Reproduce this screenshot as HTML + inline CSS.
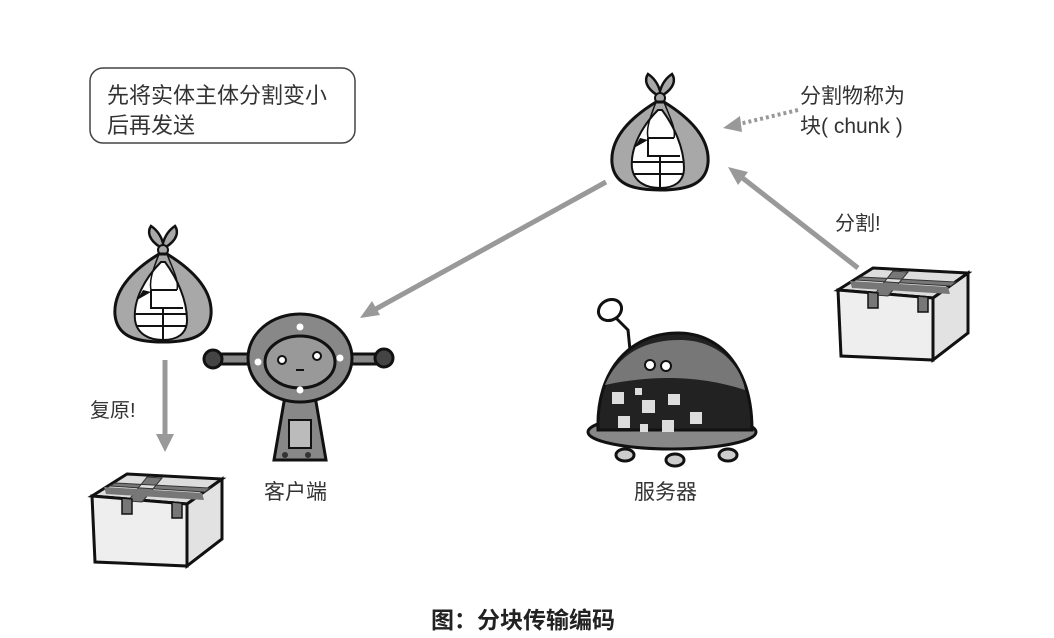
<!DOCTYPE html>
<html><head><meta charset="utf-8"><style>
html,body{margin:0;padding:0;background:#fff}
svg{display:block}
text{font-family:"Liberation Sans","Noto Sans CJK SC",sans-serif;fill:#333}
</style></head><body>
<svg width="1054" height="638" viewBox="0 0 1054 638" xmlns="http://www.w3.org/2000/svg">
<defs>
<g id="bag">
 <path d="M-3,-53 C-14,-60 -16,-68 -12,-74 C-6,-70 -2,-64 0,-57 C2,-64 6,-70 12,-74 C16,-68 14,-60 3,-53 Z" fill="#a8a8a8" stroke="#111" stroke-width="2.5"/>
 <circle cx="0" cy="-50" r="5" fill="#a8a8a8" stroke="#111" stroke-width="2"/>
 <path d="M-4,-46 C-30,-30 -50,-10 -48,15 C-46,35 -30,42 0,42 C30,42 46,35 48,15 C50,-10 30,-30 4,-46 Z" fill="#a8a8a8" stroke="#111" stroke-width="3"/>
 <path d="M-2,-38 C-18,-22 -30,0 -28,20 C-26,34 -14,40 0,40 C14,40 24,34 24,20 C24,0 14,-22 2,-38 Z" fill="#fff" stroke="#111" stroke-width="2"/>
 <path d="M-26,0 L-20,-10 L-12,-8 Z" fill="#111"/>
 <path d="M-12,-10 L-12,8 L20,8 M-28,14 L24,14 M-26,26 L24,26 M0,8 L0,40 M-12,-10 L14,-10" fill="none" stroke="#111" stroke-width="2"/>
 <path d="M-4,-46 C-10,-30 -14,-20 -12,-10 M4,-46 C10,-30 16,-20 14,-10" fill="none" stroke="#111" stroke-width="1.5"/>
</g>
<g id="box">
 <path d="M0,22 L35,0 L130,5 L95,30 Z" fill="#ddd" stroke="#111" stroke-width="3"/>
 <path d="M0,22 L95,30 L95,92 L3,88 Z" fill="#eee" stroke="#111" stroke-width="3"/>
 <path d="M95,30 L130,5 L130,65 L95,92 Z" fill="#e2e2e2" stroke="#111" stroke-width="3"/>
 <path d="M18,12 L113,18 L118,14 L23,9 Z M55,3 L70,4 L50,28 L36,27 Z" fill="#777" stroke="#333" stroke-width="1"/>
 <path d="M12,13 L110,19 L112,26 L14,20 Z" fill="#777"/>
 <path d="M30,24 L30,40 L40,40 L40,25 Z M80,28 L80,44 L90,44 L90,29 Z" fill="#777" stroke="#111" stroke-width="1.5"/>
</g>
</defs>

<rect x="90" y="68" width="265" height="75" rx="13" fill="#fff" stroke="#444" stroke-width="1.5"/>
<text x="107" y="103" font-size="22">先将实体主体分割变小</text>
<text x="107" y="133" font-size="22">后再发送</text>

<use href="#bag" x="660" y="148"/>
<use href="#bag" x="163" y="300"/>

<text x="800" y="103" font-size="21">分割物称为</text>
<text x="800" y="133" font-size="21">块( chunk )</text>
<line x1="798" y1="110" x2="735" y2="125" stroke="#999" stroke-width="4" stroke-dasharray="3,3"/>
<path d="M723,128 L740,116 L742,132 Z" fill="#999"/>

<line x1="606" y1="182" x2="374" y2="310" stroke="#999" stroke-width="5"/>
<path d="M360,318 L372,301 L380,315 Z" fill="#999"/>
<line x1="858" y1="268" x2="740" y2="176" stroke="#999" stroke-width="5"/>
<path d="M728,167 L748,172 L738,185 Z" fill="#999"/>
<text x="835" y="230" font-size="20">分割!</text>

<line x1="165" y1="360" x2="165" y2="436" stroke="#999" stroke-width="5"/>
<path d="M156,434 L174,434 L165,452 Z" fill="#999"/>
<text x="90" y="417" font-size="20">复原!</text>

<use href="#box" x="838" y="268"/>
<use href="#box" x="92" y="474"/>

<!-- client robot -->
<g stroke="#111" stroke-width="3">
 <rect x="215" y="354" width="40" height="10" fill="#888"/>
 <rect x="345" y="354" width="40" height="10" fill="#888"/>
 <circle cx="213" cy="359" r="9" fill="#444"/>
 <circle cx="384" cy="358" r="9" fill="#444"/>
 <path d="M285,396 L315,396 L326,460 L274,460 Z" fill="#888"/>
 <rect x="289" y="420" width="22" height="28" fill="#bbb" stroke-width="2"/>
 <ellipse cx="300" cy="358" rx="52" ry="44" fill="#888"/>
 <ellipse cx="300" cy="362" rx="35" ry="26" fill="#999"/>
</g>
<circle cx="300" cy="327" r="3.5" fill="#fff"/><circle cx="300" cy="390" r="3.5" fill="#fff"/>
<circle cx="258" cy="362" r="3.5" fill="#fff"/><circle cx="340" cy="358" r="3.5" fill="#fff"/>
<circle cx="282" cy="360" r="4" fill="#fff" stroke="#111" stroke-width="2"/>
<circle cx="317" cy="356" r="4" fill="#fff" stroke="#111" stroke-width="2"/>
<line x1="296" y1="370" x2="304" y2="370" stroke="#111" stroke-width="2"/>
<circle cx="285" cy="455" r="3" fill="#333"/><circle cx="308" cy="455" r="3" fill="#333"/>
<text x="264" y="499" font-size="21">客户端</text>

<!-- server -->
<g stroke="#111" stroke-width="3">
 <ellipse cx="625" cy="455" rx="9" ry="6" fill="#ccc"/>
 <ellipse cx="675" cy="460" rx="9" ry="6" fill="#ccc"/>
 <ellipse cx="728" cy="455" rx="9" ry="6" fill="#ccc"/>
 <ellipse cx="672" cy="432" rx="84" ry="17" fill="#888"/>
 <path d="M616,318 L628,330 L630,350" fill="none"/>
 <ellipse cx="610" cy="310" rx="12" ry="10" fill="#fff" transform="rotate(-30 610 310)"/>
 <path d="M598,430 C596,370 630,333 678,333 C722,333 752,370 752,430 Z" fill="#222"/>
 <path d="M605,385 C620,350 650,340 680,340 C715,340 740,362 745,390 C700,375 650,375 605,385 Z" fill="#777" stroke="none"/>
</g>
<g fill="#ddd">
 <rect x="612" y="392" width="12" height="12"/><rect x="635" y="388" width="7" height="7"/>
 <rect x="642" y="400" width="13" height="13"/><rect x="668" y="394" width="12" height="11"/>
 <rect x="618" y="416" width="12" height="12"/><rect x="640" y="424" width="8" height="8"/>
 <rect x="662" y="420" width="12" height="12"/><rect x="690" y="412" width="12" height="12"/>
</g>
<circle cx="650" cy="365" r="5" fill="#fff" stroke="#111" stroke-width="2"/>
<circle cx="666" cy="366" r="5" fill="#fff" stroke="#111" stroke-width="2"/>
<text x="634" y="499" font-size="21">服务器</text>

<text x="431" y="628" font-size="23" font-weight="bold" style="fill:#222">图：分块传输编码</text>
</svg>
</body></html>
